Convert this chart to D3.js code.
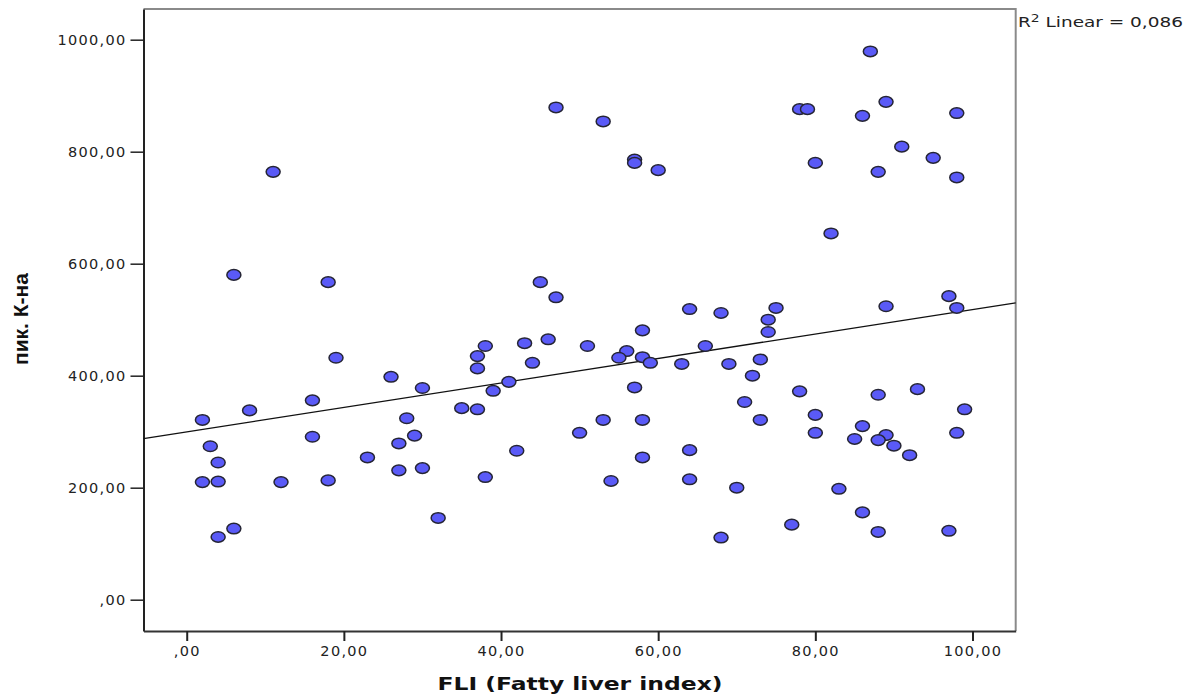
<!DOCTYPE html>
<html>
<head>
<meta charset="utf-8">
<script src="https://cdn.jsdelivr.net/npm/d3@7"></script>
<style>
  body { margin: 0; background: #fff; }
  svg { display: block; }
</style>
</head>
<body>
<div id="chart-container"></div>
<script>
// FLI values (x) and пик. К-на values (y)
const fli = [
  11, 6, 18, 47, 53, 57, 57, 60, 45, 47, 64, 68, 87, 78, 79, 89, 86, 98, 91, 80,
  95, 88, 98, 82, 75, 74, 89, 97, 98, 19, 26, 30, 16, 8, 2, 28, 16, 29, 3, 27,
  23, 4, 27, 30, 2, 4, 12, 18, 32, 6, 4, 58, 38, 43, 46, 51, 56, 66, 37, 37,
  44, 55, 58, 59, 63, 69, 41, 39, 57, 35, 37, 53, 58, 50, 42, 58, 64, 38, 54, 64,
  68, 74, 73, 72, 78, 88, 93, 71, 99, 73, 80, 80, 86, 85, 89, 88, 90, 92, 98, 70,
  83, 86, 77, 88, 97
];
const pikKna = [
  764, 580, 567, 879, 854, 786, 780, 767, 567, 540, 519, 512, 979, 876, 876, 889, 864, 869, 809, 780,
  789, 764, 754, 654, 521, 500, 524, 542, 521, 432, 398, 378, 356, 338, 321, 324, 291, 293, 274, 279,
  254, 245, 231, 235, 210, 211, 210, 213, 146, 127, 112, 481, 453, 458, 465, 453, 444, 453, 435, 413,
  423, 432, 433, 423, 421, 421, 389, 373, 379, 342, 340, 321, 321, 298, 266, 254, 267, 219, 212, 215,
  111, 478, 429, 400, 372, 366, 376, 353, 340, 321, 330, 298, 310, 287, 294, 285, 275, 258, 298, 200,
  198, 156, 134, 121, 123
];
const xTicks = [0, 20, 40, 60, 80, 100];
const yTicks = [0, 200, 400, 600, 800, 1000];
const rSquaredLabel = "0,086";

const width = 1192;
const height = 697;

const data = fli.map((v, i) => ({ x: v, y: pikKna[i] }));

const x = d3.scaleLinear()
    .domain([-5.5, 105.5])
    .range([143.5, 1015.7]);

const y = d3.scaleLinear()
    .domain([-55.9, 1054.8])
    .range([631, 9]);

const fmt = d => d === 0 ? ",00" : d.toFixed(2).replace(".", ",");

const svg = d3.select("#chart-container").append("svg")
    .attr("width", width)
    .attr("height", height);

// frame: top and right in grey
svg.append("path")
    .attr("d", `M${x.range()[0]},${y.range()[1]}H${x.range()[1]}V${y.range()[0]}`)
    .attr("fill", "none")
    .attr("stroke", "#8a8a8a")
    .attr("stroke-width", 2);

// y axis
svg.append("g")
    .attr("transform", `translate(${x.range()[0]},0)`)
    .call(d3.axisLeft(y).tickValues(yTicks).tickFormat(fmt).tickSize(13).tickSizeOuter(0).tickPadding(4))
    .call(g => g.select(".domain").attr("stroke", "#222").attr("stroke-width", 2))
    .call(g => g.selectAll(".tick line").attr("stroke", "#222").attr("stroke-width", 1.5))
    .call(g => g.selectAll(".tick text")
        .attr("font-family", "DejaVu Sans, sans-serif")
        .attr("font-size", 14.5)
        .attr("letter-spacing", 1.3)
        .attr("fill", "#222"));

// x axis
svg.append("g")
    .attr("transform", `translate(0,${y.range()[0]})`)
    .call(d3.axisBottom(x).tickValues(xTicks).tickFormat(fmt).tickSize(10).tickSizeOuter(0).tickPadding(5))
    .call(g => g.select(".domain").attr("stroke", "#333").attr("stroke-width", 2))
    .call(g => g.selectAll(".tick line").attr("stroke", "#222").attr("stroke-width", 2))
    .call(g => g.selectAll(".tick text")
        .attr("font-family", "DejaVu Sans, sans-serif")
        .attr("font-size", 14.5)
        .attr("letter-spacing", 1.3)
        .attr("fill", "#222"));

// least squares fit line from the points
const mx = d3.mean(data, d => d.x);
const my = d3.mean(data, d => d.y);
const slope = d3.sum(data, d => (d.x - mx) * (d.y - my)) / d3.sum(data, d => (d.x - mx) ** 2);
const intercept = my - slope * mx;
const [x0, x1] = x.domain();

svg.append("line")
    .attr("x1", x(x0))
    .attr("y1", y(intercept + slope * x0))
    .attr("x2", x(x1))
    .attr("y2", y(intercept + slope * x1))
    .attr("stroke", "#111")
    .attr("stroke-width", 1.3);

// points
svg.append("g")
    .selectAll("ellipse")
    .data(data)
    .join("ellipse")
    .attr("cx", d => x(d.x))
    .attr("cy", d => y(d.y))
    .attr("rx", 7)
    .attr("ry", 5.3)
    .attr("fill", "#5a5af7")
    .attr("stroke", "#252535")
    .attr("stroke-width", 1.5);

// R² label (stretched horizontally like the original)
const r2 = svg.append("text")
    .attr("transform", "translate(1018,27) scale(1.32,1)")
    .attr("font-family", "DejaVu Sans, sans-serif")
    .attr("font-size", 14)
    .attr("fill", "#222");
r2.append("tspan").text("R");
r2.append("tspan").attr("dy", -5).attr("font-size", 10.5).text("2");
r2.append("tspan").attr("dy", 5).text(` Linear = ${rSquaredLabel}`);

// axis titles
svg.append("text")
    .attr("x", 580)
    .attr("y", 690)
    .attr("text-anchor", "middle")
    .attr("font-family", "DejaVu Sans, sans-serif")
    .attr("font-weight", "bold")
    .attr("font-size", 18)
    .attr("textLength", 285)
    .attr("lengthAdjust", "spacingAndGlyphs")
    .attr("fill", "#111")
    .text("FLI (Fatty liver index)");

svg.append("text")
    .attr("transform", "translate(28,319) rotate(-90)")
    .attr("text-anchor", "middle")
    .attr("font-family", "Liberation Sans Narrow, Liberation Sans, sans-serif")
    .attr("font-weight", "bold")
    .attr("font-size", 21)
    .attr("textLength", 92)
    .attr("lengthAdjust", "spacingAndGlyphs")
    .attr("fill", "#111")
    .text("пик. К-на");
</script>
</body>
</html>
